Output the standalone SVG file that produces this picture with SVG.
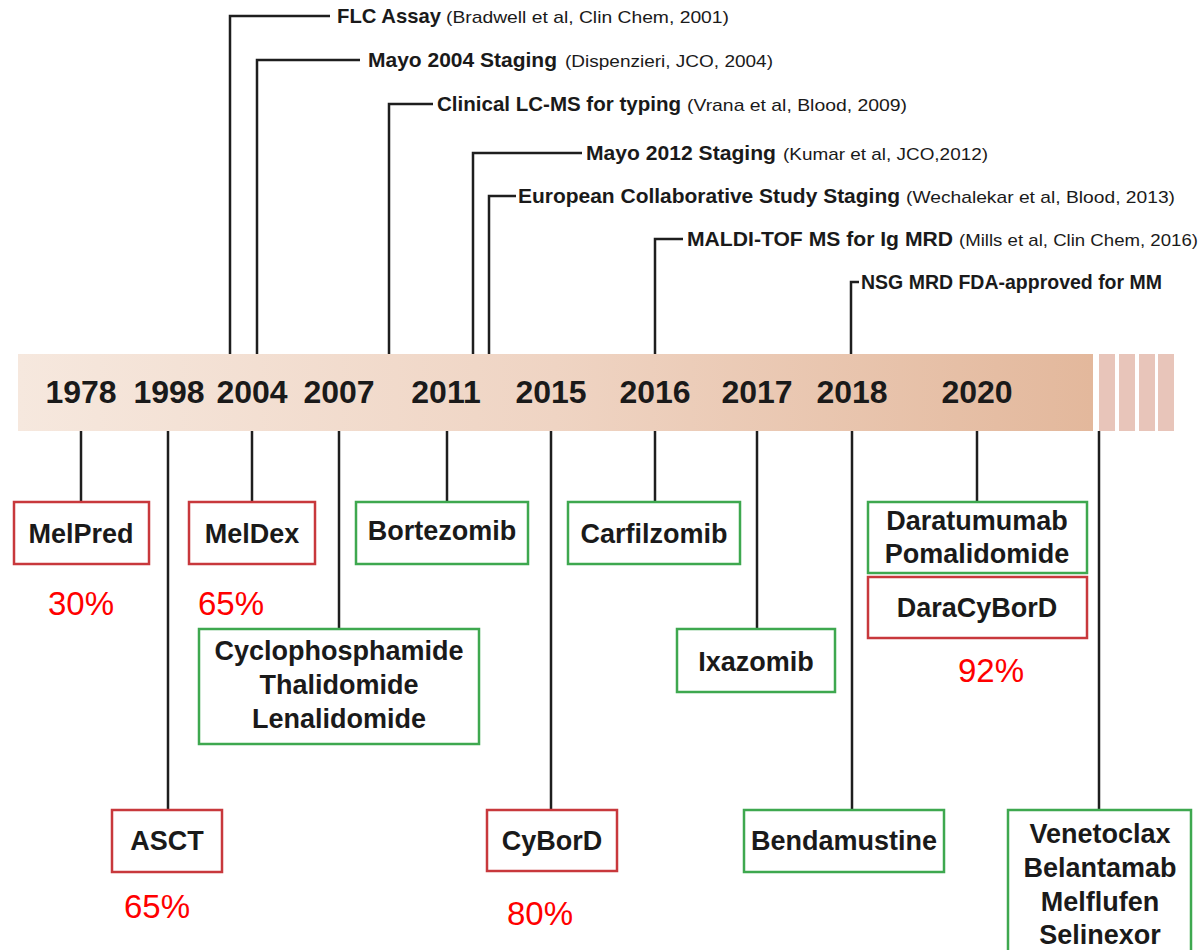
<svg xmlns="http://www.w3.org/2000/svg" width="1203" height="950" viewBox="0 0 1203 950">
<defs>
<linearGradient id="band" x1="0" y1="0" x2="1" y2="0">
<stop offset="0" stop-color="#f6e8de"/>
<stop offset="0.5" stop-color="#efd4c3"/>
<stop offset="1" stop-color="#e3b89c"/>
</linearGradient>
<style>
.ln{stroke:#1e1e1e;stroke-width:2.5;fill:none}
.red{fill:#fff;stroke:#c8383c;stroke-width:2.5}
.grn{fill:#fff;stroke:#3ea84f;stroke-width:2.5}
.bx{font-family:"Liberation Sans",Arial,sans-serif;font-weight:bold;font-size:27px;fill:#1a1a1a;text-anchor:middle}
.yr{font-family:"Liberation Sans",Arial,sans-serif;font-weight:bold;font-size:32px;fill:#1a1a1a;text-anchor:middle}
.pc{font-family:"Liberation Sans",Arial,sans-serif;font-size:33px;fill:#ff0000;text-anchor:middle}
.an{font-family:"Liberation Sans",Arial,sans-serif;font-weight:bold;font-size:21px;fill:#1a1a1a}
.rf{font-family:"Liberation Sans",Arial,sans-serif;font-size:17px;fill:#1a1a1a}
.st{fill:#e8c5ba}
</style>
</defs>
<rect width="1203" height="950" fill="#fff"/>
<g id="timeline">
<rect x="18" y="354" width="1075" height="77" fill="url(#band)"/>
<rect class="st" x="1099" y="354" width="16" height="77"/>
<rect class="st" x="1119" y="354" width="16" height="77"/>
<rect class="st" x="1139" y="354" width="16" height="77"/>
<rect class="st" x="1158" y="354" width="16" height="77"/>
<text class="yr" x="81" y="403">1978</text>
<text class="yr" x="169" y="403">1998</text>
<text class="yr" x="252" y="403">2004</text>
<text class="yr" x="339" y="403">2007</text>
<text class="yr" x="446" y="403">2011</text>
<text class="yr" x="551" y="403">2015</text>
<text class="yr" x="655" y="403">2016</text>
<text class="yr" x="757" y="403">2017</text>
<text class="yr" x="852" y="403">2018</text>
<text class="yr" x="977" y="403">2020</text>
</g>
<g id="connectors" class="ln">
<path d="M230,354V16H330"/>
<path d="M257,354V60H360"/>
<path d="M389,354V104H433"/>
<path d="M473,354V153H582"/>
<path d="M489,354V196H516"/>
<path d="M655,354V239H683"/>
<path d="M851,354V282H859"/>
<path d="M81,431V502"/>
<path d="M168,431V810"/>
<path d="M252,431V502"/>
<path d="M339,431V629"/>
<path d="M447,431V502"/>
<path d="M551,431V810"/>
<path d="M655,431V502"/>
<path d="M757,431V629"/>
<path d="M852,431V810"/>
<path d="M977,431V502"/>
<path d="M1099,431V810"/>
</g>
<g id="ann-flc"><text class="an" x="337" y="23" textLength="104" lengthAdjust="spacingAndGlyphs">FLC Assay</text><text class="rf" x="446" y="23" textLength="283" lengthAdjust="spacingAndGlyphs">(Bradwell et al, Clin Chem, 2001)</text></g>
<g id="ann-mayo2004"><text class="an" x="368" y="67" textLength="189" lengthAdjust="spacingAndGlyphs">Mayo 2004 Staging</text><text class="rf" x="565" y="67" textLength="208" lengthAdjust="spacingAndGlyphs">(Dispenzieri, JCO, 2004)</text></g>
<g id="ann-lcms"><text class="an" x="437" y="111" textLength="244" lengthAdjust="spacingAndGlyphs">Clinical LC-MS for typing</text><text class="rf" x="687" y="111" textLength="220" lengthAdjust="spacingAndGlyphs">(Vrana et al, Blood, 2009)</text></g>
<g id="ann-mayo2012"><text class="an" x="586" y="160" textLength="190" lengthAdjust="spacingAndGlyphs">Mayo 2012 Staging</text><text class="rf" x="783" y="160" textLength="205" lengthAdjust="spacingAndGlyphs">(Kumar et al, JCO,2012)</text></g>
<g id="ann-european"><text class="an" x="518" y="203" textLength="382" lengthAdjust="spacingAndGlyphs">European Collaborative Study Staging</text><text class="rf" x="906" y="203" textLength="269" lengthAdjust="spacingAndGlyphs">(Wechalekar et al, Blood, 2013)</text></g>
<g id="ann-maldi"><text class="an" x="687" y="246" textLength="266" lengthAdjust="spacingAndGlyphs">MALDI-TOF MS for Ig MRD</text><text class="rf" x="959" y="246" textLength="239" lengthAdjust="spacingAndGlyphs">(Mills et al, Clin Chem, 2016)</text></g>
<g id="ann-nsg"><text class="an" x="861" y="289" textLength="301" lengthAdjust="spacingAndGlyphs">NSG MRD FDA-approved for MM</text></g>
<g id="melpred"><rect class="red" x="14" y="502" width="135" height="62"/><text class="bx" x="81" y="543">MelPred</text><text class="pc" x="81" y="615">30%</text></g>
<g id="meldex"><rect class="red" x="189" y="502" width="126" height="62"/><text class="bx" x="252" y="543">MelDex</text><text class="pc" x="231" y="615">65%</text></g>
<g id="bortezomib"><rect class="grn" x="356" y="502" width="172" height="62"/><text class="bx" x="442" y="540">Bortezomib</text></g>
<g id="carfilzomib"><rect class="grn" x="568" y="502" width="172" height="62"/><text class="bx" x="654" y="543">Carfilzomib</text></g>
<g id="daratumumab"><rect class="grn" x="868" y="502" width="219" height="71"/><text class="bx" x="977" y="530">Daratumumab</text><text class="bx" x="977" y="563">Pomalidomide</text></g>
<g id="daracybord"><rect class="red" x="868" y="577" width="219" height="61"/><text class="bx" x="977" y="617">DaraCyBorD</text><text class="pc" x="991" y="682">92%</text></g>
<g id="cyclo"><rect class="grn" x="199" y="629" width="280" height="115"/><text class="bx" x="339" y="660">Cyclophosphamide</text><text class="bx" x="339" y="694">Thalidomide</text><text class="bx" x="339" y="728">Lenalidomide</text></g>
<g id="ixazomib"><rect class="grn" x="677" y="629" width="158" height="63"/><text class="bx" x="756" y="671">Ixazomib</text></g>
<g id="asct"><rect class="red" x="112" y="810" width="110" height="62"/><text class="bx" x="167" y="850">ASCT</text><text class="pc" x="157" y="918">65%</text></g>
<g id="cybord"><rect class="red" x="487" y="810" width="130" height="61"/><text class="bx" x="552" y="850">CyBorD</text><text class="pc" x="540" y="925">80%</text></g>
<g id="bendamustine"><rect class="grn" x="744" y="810" width="200" height="62"/><text class="bx" x="844" y="850">Bendamustine</text></g>
<g id="venetoclax"><rect class="grn" x="1008" y="810" width="183" height="160"/><text class="bx" x="1100" y="843">Venetoclax</text><text class="bx" x="1100" y="877">Belantamab</text><text class="bx" x="1100" y="911">Melflufen</text><text class="bx" x="1100" y="944">Selinexor</text></g>
</svg>
